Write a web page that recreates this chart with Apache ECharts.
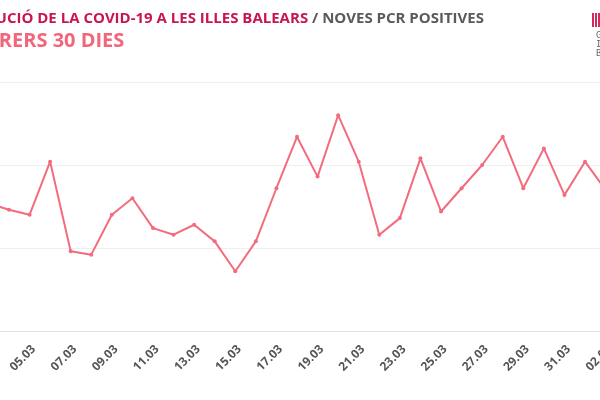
<!DOCTYPE html>
<html>
<head>
<meta charset="utf-8">
<script src="https://cdn.jsdelivr.net/npm/echarts@6/dist/echarts.min.js"></script>
<style>
html,body{margin:0;padding:0;width:600px;height:400px;overflow:hidden;background:#fff;}
#chart{position:absolute;left:-60px;top:0;width:720px;height:400px;}
</style>
</head>
<body>
<div id="chart"></div>
<script>
const dates = ['03.03','04.03','05.03','06.03','07.03','08.03','09.03','10.03','11.03','12.03','13.03','14.03','15.03','16.03','17.03','18.03','19.03','20.03','21.03','22.03','23.03','24.03','25.03','26.03','27.03','28.03','29.03','30.03','31.03','01.04','02.04'];
const pcrPositives = [77,73,70,102,48,46,70,80,62,58,64,54,36,54,86,117,93,130,102,58,68,104,72,86,100,117,86,110,82,102,85];
const yTicks = {min:0, max:150, interval:50};

const chart = echarts.init(document.getElementById('chart'));
chart.setOption({
  animation:false,
  title:{
    left:12, top:6,
    text:'{a|EVOLUCIÓ DE LA COVID-19 A LES ILLES BALEARS} {b|/ NOVES PCR POSITIVES}',
    textStyle:{
      fontFamily:'Open Sans', fontWeight:'bold', fontSize:15,
      rich:{
        a:{color:'#c8174f', fontFamily:'Open Sans', fontWeight:'bold', fontSize:15},
        b:{color:'#5a5a5a', fontFamily:'Open Sans', fontWeight:'bold', fontSize:15}
      }
    },
    subtext:'DARRERS 30 DIES',
    subtextStyle:{color:'#f2667c', fontFamily:'Open Sans', fontWeight:'bold', fontSize:20},
    itemGap:5
  },
  graphic:[
    {type:'rect', shape:{x:652,y:13,width:2,height:14}, style:{fill:'#d2295e'}},
    {type:'rect', shape:{x:655,y:13,width:2,height:14}, style:{fill:'#d2295e'}},
    {type:'rect', shape:{x:658,y:13,width:2,height:14}, style:{fill:'#d2295e'}},
    {type:'text', left:656, top:31, style:{text:'GOVERN\nILLES\nBALEARS', fill:'#666', font:'9px "DejaVu Sans Mono"', lineHeight:9}}
  ],
  grid:{left:48.4, right:54.4, top:82, bottom:69},
  xAxis:{
    type:'category', data:dates, boundaryGap:false,
    axisLine:{lineStyle:{color:'#e3e3e3'}},
    axisTick:{show:false},
    axisLabel:{interval:1, rotate:45, color:'#555', fontFamily:'Open Sans', fontWeight:'bold', fontSize:12, margin:12, verticalAlign:'top'}
  },
  yAxis:{
    type:'value', min:yTicks.min, max:yTicks.max, interval:yTicks.interval,
    axisLabel:{show:false},
    axisLine:{show:false}, axisTick:{show:false},
    splitLine:{lineStyle:{color:'#efefef'}}
  },
  series:[{
    type:'line', data:pcrPositives,
    lineStyle:{color:'#f36c7e', width:2},
    itemStyle:{color:'#f36c7e'},
    symbol:'circle', symbolSize:4, showSymbol:true
  }]
});
</script>
</body>
</html>
